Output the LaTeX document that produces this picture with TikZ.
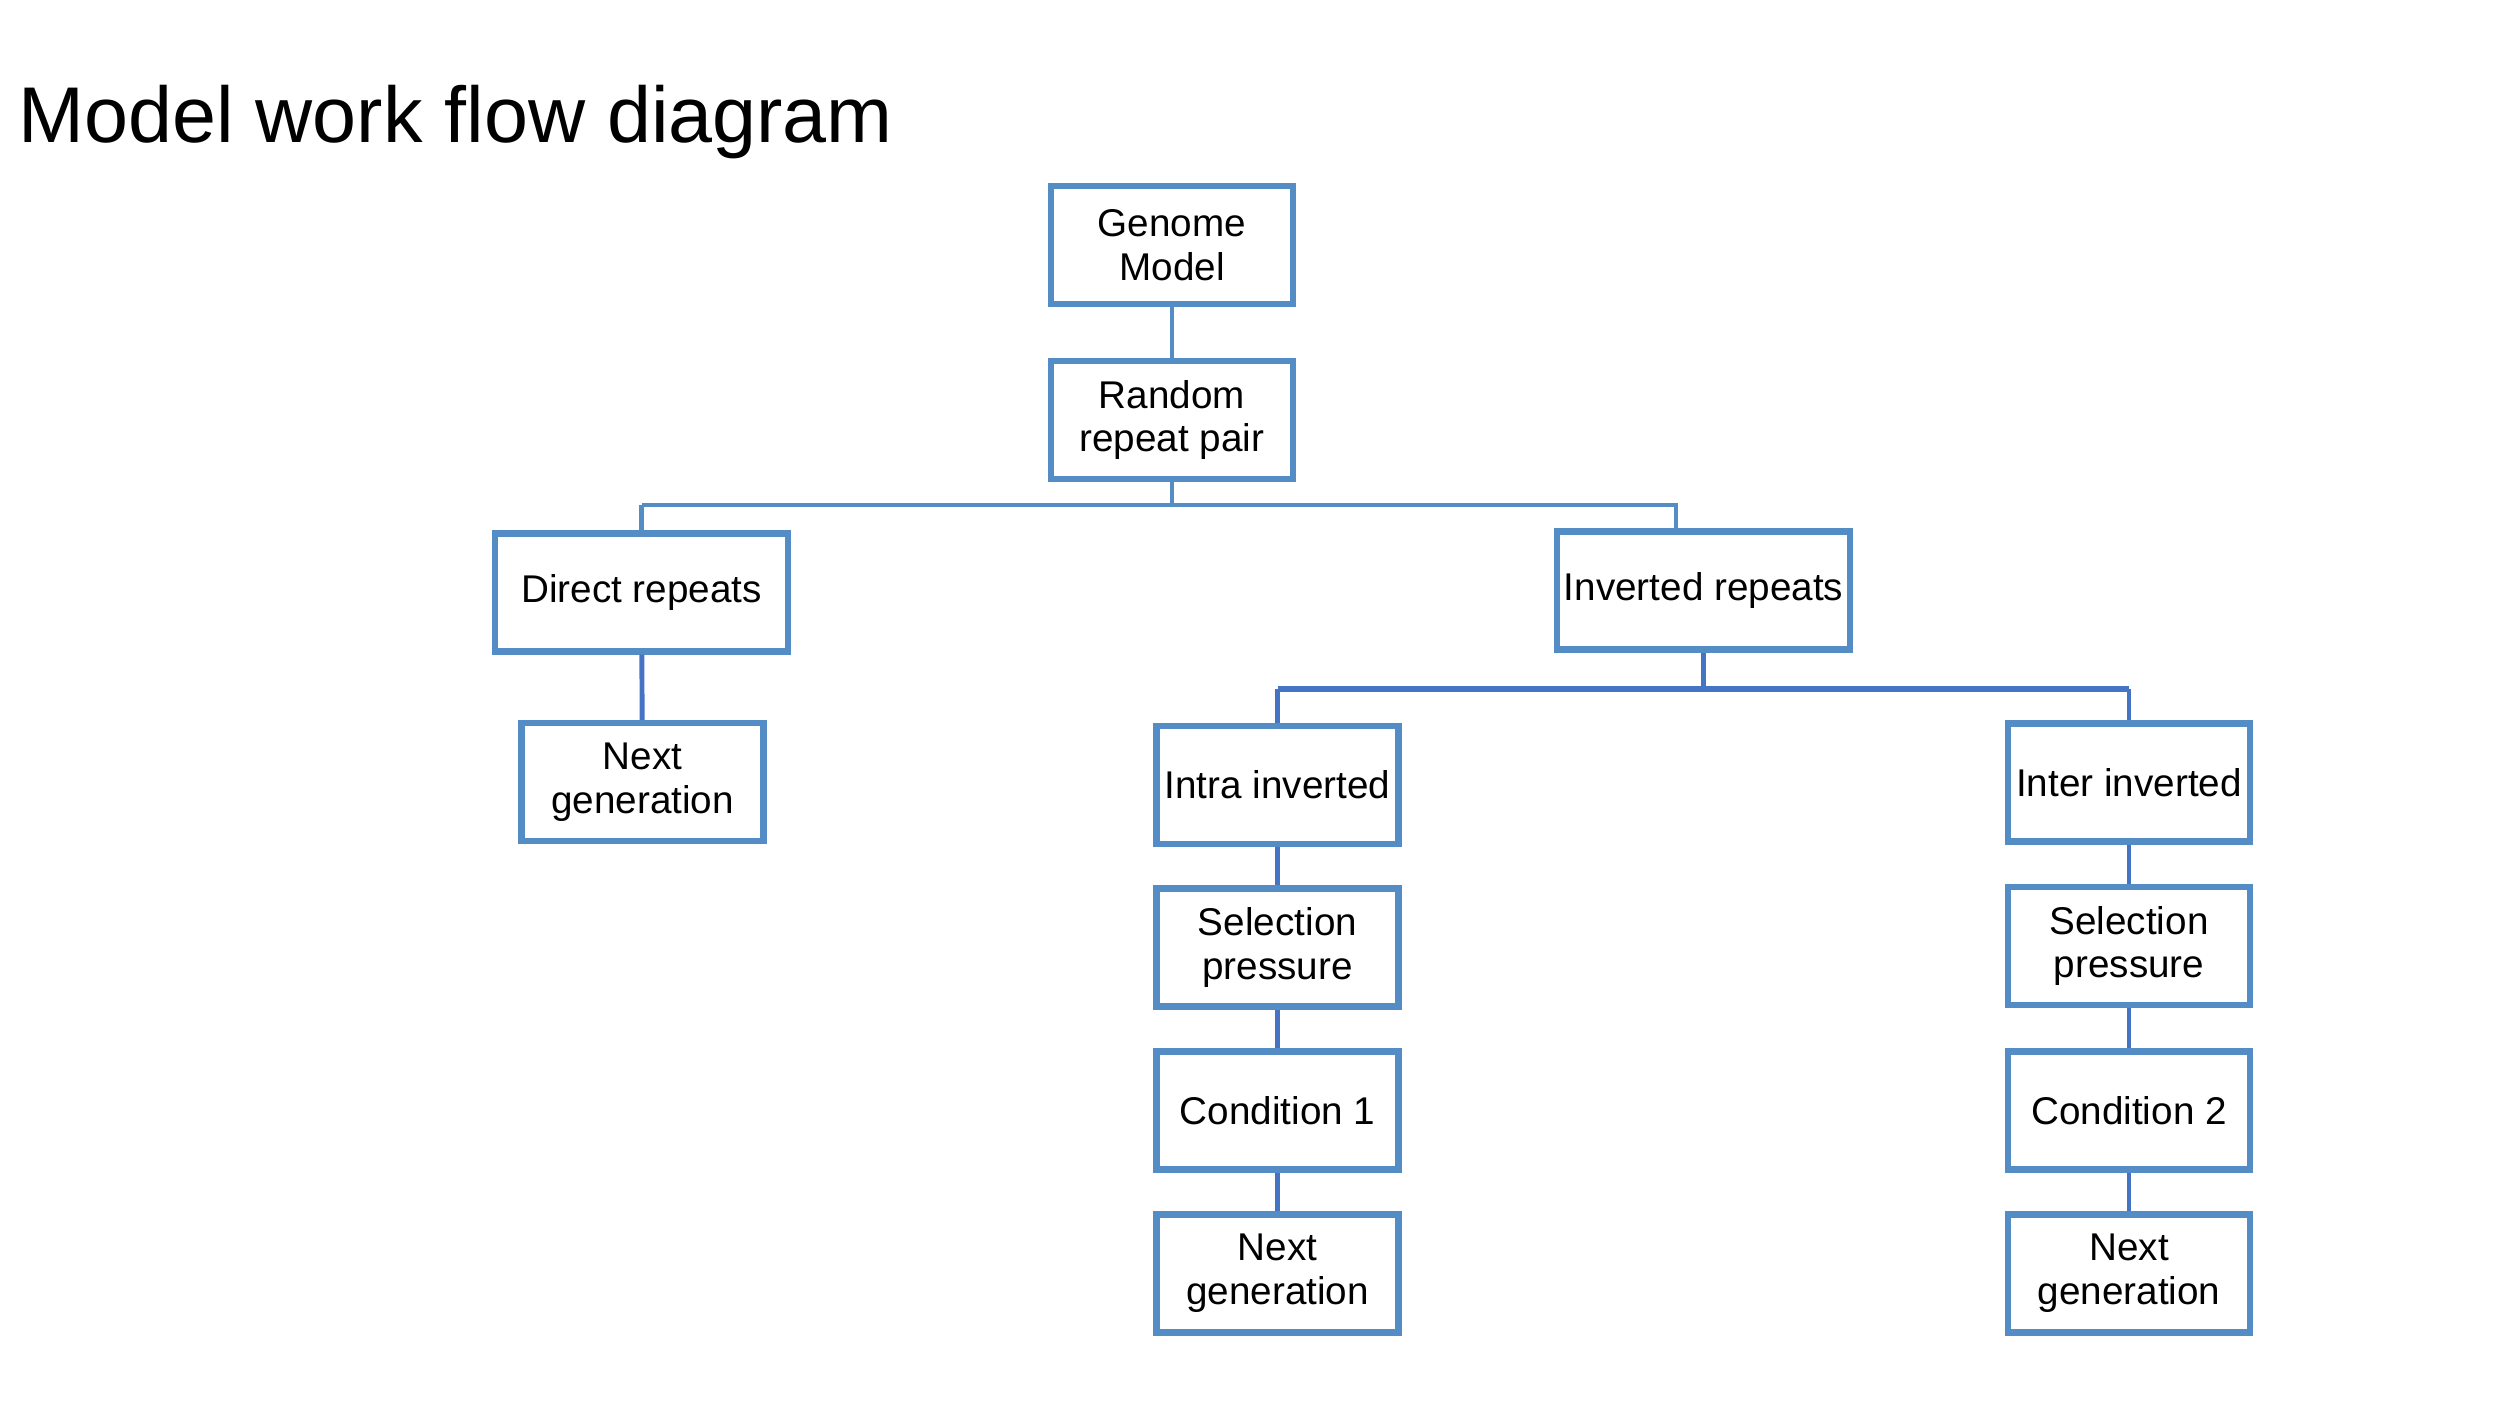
\documentclass[tikz,border=0pt]{standalone}
\usepackage{fontspec}
\setmainfont{Liberation Sans}
\usetikzlibrary{positioning}

\definecolor{boxblue}{RGB}{84,141,197}
\definecolor{linkblue}{RGB}{70,116,196}

\tikzset{
box/.style={draw=boxblue, line width=1.8pt, fill=white, minimum width=2.42cm,
  minimum height=1.18cm, inner sep=1pt, align=center,
  font=\fontsize{11}{12.5}\selectfont},
wide/.style={box, minimum width=2.93cm},
link/.style={draw=boxblue, line width=1.4pt},
sublink/.style={draw=linkblue, line width=1.4pt}
}

\begin{document}
\begin{tikzpicture}

\useasboundingbox (0,0) rectangle (24.93,-14.11);

\node[anchor=base west, font=\fontsize{22.5}{27}\selectfont] (title) at (0.06,-1.42) {Model work flow diagram};

\node[box] (gm) at (11.72,-2.45) {Genome\\Model};
\node[box] (rp) at (11.72,-4.20) {Random\\repeat pair};
\node[wide] (dr) at (6.415,-5.925) {Direct repeats};
\node[wide] (ir) at (17.035,-5.905) {Inverted repeats};
\node[box] (ng1) at (6.425,-7.82) {Next\\generation};

\node[box] (ia) at (12.775,-7.85) {Intra inverted};
\node[box] (sp1) at (12.775,-9.475) {Selection\\pressure};
\node[box] (c1) at (12.775,-11.105) {Condition 1};
\node[box] (ng2) at (12.775,-12.735) {Next\\generation};

\node[box] (ie) at (21.29,-7.825) {Inter inverted};
\node[box] (sp2) at (21.29,-9.46) {Selection\\pressure};
\node[box] (c2) at (21.29,-11.105) {Condition 2};
\node[box] (ng3) at (21.29,-12.735) {Next\\generation};

\path[shape=coordinate]
(11.72,-5.05) coordinate(j1) (16.76,-5.05) coordinate(j2)
(17.035,-6.89) coordinate(j3);

\draw[link] (gm) -- (rp);
\draw[link] (rp) -- (j1);
\draw[link] (j1 -| dr) -- (j2) -- (j2 |- ir.north);
\draw[link] (j1 -| dr) -- (dr);
\draw[sublink] (dr) -- (ng1);
\draw[sublink] (ir) -- (j3);
\draw[sublink, line width=1.8pt] (j3 -| ia) -- (j3 -| ie);
\draw[sublink] (j3 -| ia) -- (ia);
\draw[sublink] (j3 -| ie) -- (ie);
\draw[sublink] (ia) -- (sp1);
\draw[sublink] (sp1) -- (c1);
\draw[sublink] (c1) -- (ng2);
\draw[sublink] (ie) -- (sp2);
\draw[sublink] (sp2) -- (c2);
\draw[sublink] (c2) -- (ng3);

\end{tikzpicture}
\end{document}
